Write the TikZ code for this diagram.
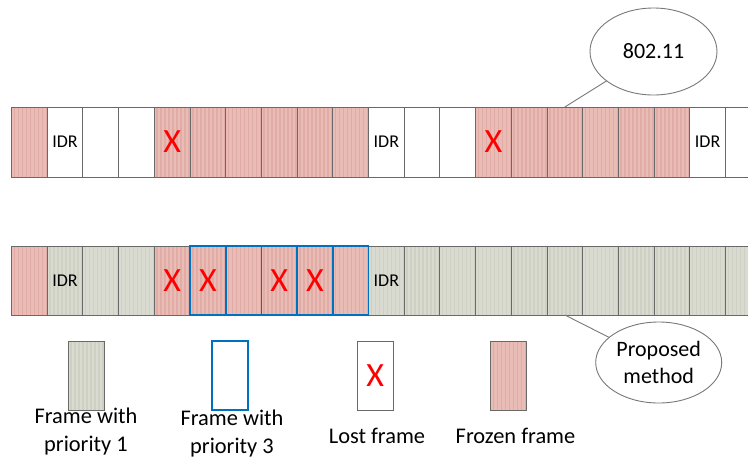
\documentclass[tikz,border=0pt]{standalone}
\usepackage{fontspec}
\setmainfont{Carlito}
\usetikzlibrary{shapes.geometric}

\definecolor{frozenfill}{RGB}{234,188,182}
\definecolor{frozenstripe}{RGB}{226,172,166}
\definecolor{grayfill}{RGB}{217,218,208}
\definecolor{graystripe}{RGB}{206,208,196}
\definecolor{cellline}{RGB}{105,105,105}
\definecolor{prioblue}{RGB}{0,112,192}
\definecolor{lostred}{RGB}{255,0,0}
\definecolor{calloutline}{RGB}{120,120,120}

\tikzset{
  x=1pt, y=-1pt,
  stripes/.style={path picture={
      \foreach \k in {2,6,...,34}
        \fill[#1] ([xshift=\k pt]path picture bounding box.south west)
                  rectangle ++(1.5pt,100pt);}},
  cell/.style={rectangle, minimum width=35.7pt, minimum height=70pt,
               inner sep=0pt, outer sep=0pt, draw=cellline, line width=1pt,
               font=\fontsize{18}{18}\selectfont, node contents={}},
  blank/.style={cell, fill=white},
  idr/.style={blank, node contents=IDR},
  frozen/.style={cell, fill=frozenfill, stripes=frozenstripe},
  frozenx/.style={frozen, text=lostred, font=\fontsize{34}{34}\selectfont,
                  node contents=X},
  gray/.style={cell, fill=grayfill, stripes=graystripe},
  gidr/.style={gray, node contents=IDR},
  prio3/.style={draw=prioblue, line width=1.7pt},
  callout/.style={ellipse, draw=calloutline, line width=0.9pt, fill=white,
                  inner sep=0pt, align=center,
                  font=\fontsize{22}{27}\selectfont},
  tail/.style={draw=calloutline, line width=0.9pt},
  legendtext/.style={align=center, inner sep=0pt,
                     font=\fontsize{22.4}{28}\selectfont},
}

\begin{document}
\begin{tikzpicture}
\useasboundingbox (0,0) rectangle (748,459);
\begin{scope}
\clip (0,0) rectangle (748,459);

% 802.11 frame sequence
\foreach \kind [count=\i from 0] in
  {frozen,idr,blank,blank,frozenx,frozen,frozen,frozen,frozen,frozen,
   idr,blank,blank,frozenx,frozen,frozen,frozen,frozen,frozen,idr,blank}
  \node (t\i) at ({11.5+35.7*(\i+0.5)},142) [\kind];

% proposed method frame sequence
\foreach \kind [count=\i from 0] in
  {frozen,gidr,gray,gray,frozenx,frozenx,frozen,frozenx,frozenx,frozen,
   gidr,gray,gray,gray,gray,gray,gray,gray,gray,gray,gray}
  \node (b\i) at ({11.5+35.7*(\i+0.5)},280.5) [\kind, minimum height=69pt];

% priority-3 frames outlined in blue
\foreach \i in {5,...,9}
  \draw[prio3] (b\i.north west) rectangle (b\i.south east);
\end{scope}

% callouts
\draw[tail] (t15.north) -- (653.5,51.5);
\node[callout, minimum width=127pt, minimum height=87pt] (c1)
  at (653.5,51.5) {802.11};
\draw[tail] (b15.south) -- (658.7,362.5);
\node[callout, minimum width=126pt, minimum height=81pt] (c2)
  at (658.7,362.5) {Proposed\\method};

% legend
\node (k1) at (86.3,375.5) [gray, minimum width=36pt, minimum height=69pt];
\node (k2) at (229.7,375.5) [blank, prio3, minimum width=36pt, minimum height=69pt];
\node (k3) at (375.2,375.5) [blank, text=lostred, font=\fontsize{34}{34}\selectfont,
      minimum width=36pt, minimum height=69pt, node contents=X];
\node (k4) at (508.9,375.5) [frozen, minimum width=36pt, minimum height=69pt];

\node[legendtext] (l1) at (86,432) {Frame with\\priority 1};
\node[legendtext] (l2) at (232,433.5) {Frame with\\priority 3};
\node[legendtext] (l3) at (377,436) {Lost frame};
\node[legendtext] (l4) at (515.5,436) {Frozen frame};
\end{tikzpicture}
\end{document}
